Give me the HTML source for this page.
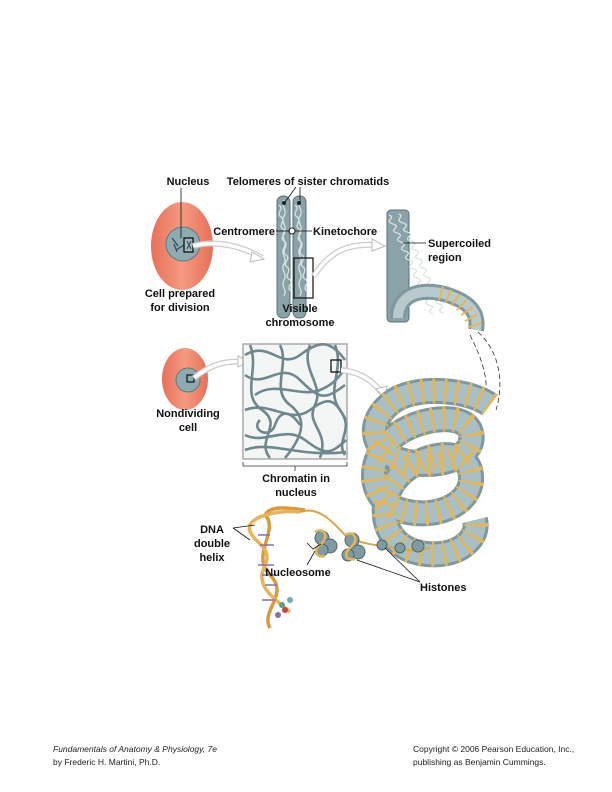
<!DOCTYPE html>
<html><head><meta charset="utf-8"><style>
body{margin:0;background:#fff;width:612px;height:792px;overflow:hidden}
svg{display:block}
.l{font-family:"Liberation Sans",sans-serif;font-weight:bold;font-size:11px;fill:#111}
.f{font-family:"Liberation Sans",sans-serif;font-size:8.5px;fill:#222}
</style></head><body>
<svg width="612" height="792" viewBox="0 0 612 792" xmlns="http://www.w3.org/2000/svg">
<defs>
<linearGradient id="cg" x1="0" x2="1"><stop offset="0" stop-color="#e8705a"/><stop offset="0.5" stop-color="#f49a80"/><stop offset="1" stop-color="#e8705a"/></linearGradient>
</defs>
<ellipse cx="182" cy="246" rx="31" ry="44" fill="url(#cg)"/>
<circle cx="183" cy="244" r="17" fill="#8fabb2" stroke="#5f7a80"/>
<path d="M172 238l6 8M176 250l8-5M174 244l3 8" stroke="#345" stroke-width="1.2"/>
<rect x="184" y="238" width="9" height="14" fill="#9fb8bd" stroke="#111" stroke-width="1.3"/>
<path d="M187 241l4 8M191 241l-4 8" stroke="#345" stroke-width="1"/>
<path d="M193 246 C215 240 240 245 262 258" stroke="#ccc" stroke-width="6" fill="none"/>
<path d="M193 246 C215 240 240 245 262 258" stroke="#fff" stroke-width="3.5" fill="none"/>
<path d="M252 252 l12 7 -14 3z" fill="#fff" stroke="#bbb"/>
<line x1="181" y1="188" x2="181" y2="238" stroke="#111" stroke-width="0.8"/>
<rect x="277" y="196" width="13" height="122" rx="6" fill="#8aa2a8" stroke="#5a7076"/>
<rect x="293" y="196" width="13" height="122" rx="6" fill="#8aa2a8" stroke="#5a7076"/>
<path d="M279 205c6 4-4 8 2 12s-4 8 2 12 -5 8 1 12 -4 10 2 14 -5 8 1 12 -4 8 2 12 -4 8 2 12M295 205c6 4-4 8 2 12s-4 8 2 12 -5 8 1 12 -4 10 2 14 -5 8 1 12 -4 8 2 12 -4 8 2 12M284 200c-4 6 4 10 0 16s4 10 0 16 4 10 0 16 4 10 0 16 4 10 0 16 4 10 0 16M300 200c-4 6 4 10 0 16s4 10 0 16 4 10 0 16 4 10 0 16 4 10 0 16 4 10 0 16" stroke="#d8e4e6" stroke-width="1.3" fill="none"/>
<circle cx="284" cy="203" r="2" fill="#222"/><circle cx="299" cy="203" r="2" fill="#222"/>
<circle cx="292" cy="231" r="3" fill="#fff" stroke="#222"/>
<rect x="294" y="258" width="19" height="40" fill="none" stroke="#111" stroke-width="1.2"/>
<path d="M296 187 L285 202 M300 187 L300 202" stroke="#111" stroke-width="0.8"/>
<line x1="276" y1="231" x2="290" y2="231" stroke="#111" stroke-width="0.8"/>
<line x1="295" y1="231" x2="312" y2="231" stroke="#111" stroke-width="0.8"/>
<path d="M314 276 C330 250 350 243 378 245" stroke="#ccc" stroke-width="6" fill="none"/>
<path d="M314 276 C330 250 350 243 378 245" stroke="#fff" stroke-width="3.5" fill="none"/>
<path d="M372 239 l13 7 -13 5z" fill="#fff" stroke="#bbb"/>
<rect x="387" y="210" width="22" height="112" rx="4" fill="#8aa2a8" stroke="#5a7076"/>
<path d="M389 215c8 3-6 6 4 9s-6 6 4 9 -6 6 4 9 -6 6 4 9 -6 6 4 9 -6 6 4 9 -6 6 4 9 -6 6 4 9 -6 6 4 9 -6 6 4 9 -6 6 4 9M399 214c6 3-6 6 4 9s-6 6 4 9 -6 6 4 9 -6 6 4 9 -6 6 4 9 -6 6 4 9 -6 6 4 9 -6 6 4 9 -6 6 4 9 -6 6 4 9 -6 6 4 9" stroke="#d8e4e6" stroke-width="1.3" fill="none"/>
<path d="M398 318 C398 290 430 285 460 300 C475 308 478 318 476 330" stroke="#7f989e" stroke-width="16" fill="none"/>
<path d="M398 318 C398 290 430 285 460 300 C475 308 478 318 476 330" stroke="#b8cacd" stroke-width="10" fill="none"/>
<path d="M440 293 C458 298 470 310 476 330" stroke="#e4b654" stroke-width="14" fill="none" stroke-dasharray="2 6"/>
<line x1="403" y1="243" x2="426" y2="243" stroke="#111" stroke-width="0.8"/>
<path d="M470 335 C480 355 488 375 486 395 M478 332 C498 350 505 380 496 410" stroke="#333" stroke-width="0.8" stroke-dasharray="5 3" fill="none"/>
<ellipse cx="185" cy="379" rx="23" ry="31" fill="url(#cg)"/>
<circle cx="188" cy="380" r="12" fill="#8fabb2" stroke="#5f7a80"/>
<rect x="187" y="375" width="7" height="7" fill="none" stroke="#111" stroke-width="1.2"/>
<path d="M194 378 C210 365 225 360 245 362" stroke="#ccc" stroke-width="6" fill="none"/>
<path d="M194 378 C210 365 225 360 245 362" stroke="#fff" stroke-width="3.5" fill="none"/>
<path d="M238 356 l11 6 -11 5z" fill="#fff" stroke="#bbb"/>
<rect x="243" y="344" width="104" height="115" fill="#f4f6f6" stroke="#aaa" stroke-width="1.5"/>
<g stroke="#6f878d" stroke-width="2.6" fill="none">
<path d="M245 355 C270 340 280 370 300 355 S330 340 345 360"/>
<path d="M245 375 C265 390 280 360 300 380 S325 400 345 385"/>
<path d="M250 345 C260 370 240 395 262 410 S255 440 270 458"/>
<path d="M280 345 C290 365 270 390 290 405 S300 440 285 458"/>
<path d="M310 345 C300 370 325 385 315 405 S330 430 320 458"/>
<path d="M335 345 C345 370 325 390 340 410 S335 440 345 455"/>
<path d="M245 410 C270 400 290 425 310 410 S335 400 346 420"/>
<path d="M245 435 C265 445 285 425 305 440 S330 455 346 440"/>
<path d="M245 450 C270 440 300 458 346 452"/>
<path d="M255 395 C275 380 300 398 320 390 S340 370 346 372"/>
<path d="M260 420 C250 430 270 440 275 425 S290 410 300 425"/>
</g>
<rect x="331" y="360" width="10" height="12" fill="none" stroke="#111" stroke-width="1.3"/>
<path d="M341 370 C360 372 372 380 382 393" stroke="#ccc" stroke-width="6" fill="none"/>
<path d="M341 370 C360 372 372 380 382 393" stroke="#fff" stroke-width="3.5" fill="none"/>
<path d="M376 389 l9 10 2-13z" fill="#fff" stroke="#bbb"/>
<path d="M243 462 v4 h104 v-4 M295 466 v5" stroke="#333" stroke-width="0.8" fill="none"/>
<g fill="none">
<path d="M490 405 C470 390 420 385 395 400 C365 420 370 450 400 460 C440 472 480 455 470 430 C460 410 410 420 390 440 C365 465 370 500 400 510 C440 522 478 500 470 470 C462 445 420 455 400 475 C375 500 380 545 420 553 C455 560 480 540 475 520" stroke="#7f989e" stroke-width="26"/>
<path d="M490 405 C470 390 420 385 395 400 C365 420 370 450 400 460 C440 472 480 455 470 430 C460 410 410 420 390 440 C365 465 370 500 400 510 C440 522 478 500 470 470 C462 445 420 455 400 475 C375 500 380 545 420 553 C455 560 480 540 475 520" stroke="#a9bfc4" stroke-width="20"/>
<path d="M490 405 C470 390 420 385 395 400 C365 420 370 450 400 460 C440 472 480 455 470 430 C460 410 410 420 390 440 C365 465 370 500 400 510 C440 522 478 500 470 470 C462 445 420 455 400 475 C375 500 380 545 420 553 C455 560 480 540 475 520" stroke="#e4b654" stroke-width="25" stroke-dasharray="2.5 9"/>
</g>
<path d="M300 512 C320 505 335 525 345 535 C360 545 380 545 395 548 C410 552 420 550 430 548" stroke="#d9a548" stroke-width="2" fill="none"/>
<g fill="#7f9aa0" stroke="#4f666b">
<circle cx="322" cy="538" r="7"/><circle cx="330" cy="546" r="7"/><circle cx="322" cy="550" r="6"/>
<circle cx="352" cy="540" r="7"/><circle cx="358" cy="552" r="7"/><circle cx="348" cy="555" r="6"/>
<circle cx="382" cy="545" r="5"/><circle cx="400" cy="548" r="5"/><circle cx="418" cy="546" r="6"/>
</g>
<path d="M315 532 c10-6 14 6 6 12 s-6 14 4 12M345 535 c10-6 14 6 6 12 s-6 14 4 12" stroke="#e4b654" stroke-width="2.5" fill="none"/>
<path d="M307 543 l6 6 8-5 M315 551 L307 565 M357 560 L420 582 M385 548 L420 582" stroke="#111" stroke-width="0.8" fill="none"/>
<g fill="none" stroke-width="3.5">
<path d="M270 628 C260 610 290 595 270 575 C250 555 280 530 265 515 C270 505 290 508 305 510" stroke="#d99a3c"/>
<path d="M290 612 C270 595 255 585 265 565 C275 545 245 540 250 525 C255 515 280 510 300 512" stroke="#e8b35a"/>
</g>
<path d="M265 585 h12 M262 575 h14 M258 565 h16 M260 545 h14 M258 535 h12 M262 600 h14" stroke="#8a6fb0" stroke-width="1.5"/>
<circle cx="282" cy="605" r="3" fill="#5aa080"/><circle cx="290" cy="600" r="3" fill="#6cb0b0"/><circle cx="278" cy="615" r="3" fill="#8a6fb0"/><circle cx="285" cy="610" r="3" fill="#d04040"/>
<path d="M233 528 L255 525 M233 528 L250 540" stroke="#111" stroke-width="0.8"/>
<text class="l" x="188" y="185" text-anchor="middle">Nucleus</text>
<text class="l" x="308" y="185" text-anchor="middle">Telomeres of sister chromatids</text>
<text class="l" x="275" y="235" text-anchor="end">Centromere</text>
<text class="l" x="313" y="235">Kinetochore</text>
<text class="l" x="428" y="247">Supercoiled</text>
<text class="l" x="428" y="261">region</text>
<text class="l" x="180" y="297" text-anchor="middle">Cell prepared</text>
<text class="l" x="180" y="311" text-anchor="middle">for division</text>
<text class="l" x="300" y="312" text-anchor="middle">Visible</text>
<text class="l" x="300" y="326" text-anchor="middle">chromosome</text>
<text class="l" x="188" y="417" text-anchor="middle">Nondividing</text>
<text class="l" x="188" y="431" text-anchor="middle">cell</text>
<text class="l" x="296" y="482" text-anchor="middle">Chromatin in</text>
<text class="l" x="296" y="496" text-anchor="middle">nucleus</text>
<text class="l" x="212" y="533" text-anchor="middle">DNA</text>
<text class="l" x="212" y="547" text-anchor="middle">double</text>
<text class="l" x="212" y="561" text-anchor="middle">helix</text>
<text class="l" x="298" y="576" text-anchor="middle">Nucleosome</text>
<text class="l" x="420" y="591">Histones</text>
<text class="f" x="53" y="752" font-style="italic">Fundamentals of Anatomy &amp; Physiology, 7e</text>
<text class="f" x="53" y="765">by Frederic H. Martini, Ph.D.</text>
<text class="f" x="413" y="752">Copyright © 2006 Pearson Education, Inc.,</text>
<text class="f" x="413" y="765">publishing as Benjamin Cummings.</text>
</svg>
</body></html>
